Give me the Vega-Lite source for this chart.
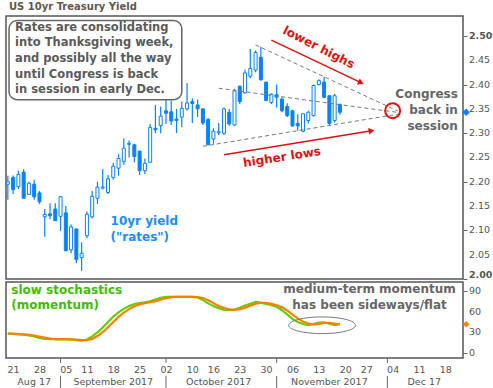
{
"$schema": "https://vega.github.io/schema/vega-lite/v6.json",
"padding": {"left": 2, "top": 2, "right": 0, "bottom": 0},
"background": "white",
"spacing": 0,
"title": {"text": "US 10yr Treasury Yield", "anchor": "start", "frame": "group", "offset": 3, "dx": 3, "fontSize": 10, "fontWeight": "bold", "font": "DejaVu Sans", "color": "#62574a"},
"config": {
  "view": {"stroke": "#555", "strokeWidth": 1.5},
  "axis": {"labelFont": "DejaVu Sans", "labelFontSize": 9.5, "labelColor": "#555", "tickColor": "#666", "grid": false, "domain": false, "labelOverlap": false},
  "text": {"font": "DejaVu Sans"},
  "point": {"opacity": 1}
},
"datasets": {
  "px": [
    {"d":"2017-08-18","o":2.195,"h":2.2126,"l":2.163,"c":2.200,"k":28,"s":28.5},
    {"d":"2017-08-21","o":2.209,"h":2.213,"l":2.175,"c":2.184,"k":27.5,"s":28},
    {"d":"2017-08-22","o":2.190,"h":2.223,"l":2.185,"c":2.215,"k":27,"s":27.5},
    {"d":"2017-08-23","o":2.220,"h":2.226,"l":2.166,"c":2.166,"k":26.5,"s":27},
    {"d":"2017-08-24","o":2.174,"h":2.200,"l":2.173,"c":2.197,"k":25.5,"s":26.3},
    {"d":"2017-08-25","o":2.195,"h":2.204,"l":2.163,"c":2.169,"k":24,"s":25.3},
    {"d":"2017-08-28","o":2.177,"h":2.181,"l":2.154,"c":2.159,"k":22,"s":23.8},
    {"d":"2017-08-29","o":2.128,"h":2.144,"l":2.087,"c":2.133,"k":20.5,"s":22.2},
    {"d":"2017-08-30","o":2.134,"h":2.156,"l":2.123,"c":2.130,"k":20,"s":20.8},
    {"d":"2017-08-31","o":2.144,"h":2.156,"l":2.120,"c":2.120,"k":20,"s":20.2},
    {"d":"2017-09-01","o":2.129,"h":2.171,"l":2.099,"c":2.169,"k":19.8,"s":20},
    {"d":"2017-09-05","o":2.136,"h":2.150,"l":2.058,"c":2.058,"k":20,"s":20},
    {"d":"2017-09-06","o":2.060,"h":2.112,"l":2.053,"c":2.107,"k":19.5,"s":19.8},
    {"d":"2017-09-07","o":2.103,"h":2.103,"l":2.033,"c":2.040,"k":18.5,"s":19.3},
    {"d":"2017-09-08","o":2.044,"h":2.0755,"l":2.017,"c":2.053,"k":18,"s":18.7},
    {"d":"2017-09-11","o":2.089,"h":2.139,"l":2.084,"c":2.133,"k":19.5,"s":18.7},
    {"d":"2017-09-12","o":2.128,"h":2.181,"l":2.125,"c":2.170,"k":24,"s":20.5},
    {"d":"2017-09-13","o":2.166,"h":2.200,"l":2.154,"c":2.189,"k":30,"s":24.5},
    {"d":"2017-09-14","o":2.187,"h":2.226,"l":2.184,"c":2.189,"k":37,"s":30.3},
    {"d":"2017-09-15","o":2.178,"h":2.214,"l":2.175,"c":2.206,"k":45,"s":37.3},
    {"d":"2017-09-18","o":2.209,"h":2.239,"l":2.204,"c":2.232,"k":53,"s":45},
    {"d":"2017-09-19","o":2.228,"h":2.257,"l":2.2125,"c":2.248,"k":59,"s":52.3},
    {"d":"2017-09-20","o":2.242,"h":2.289,"l":2.235,"c":2.269,"k":64,"s":58.7},
    {"d":"2017-09-21","o":2.277,"h":2.285,"l":2.250,"c":2.279,"k":68,"s":63.7},
    {"d":"2017-09-22","o":2.276,"h":2.278,"l":2.240,"c":2.252,"k":71,"s":67.7},
    {"d":"2017-09-25","o":2.263,"h":2.264,"l":2.214,"c":2.223,"k":72.5,"s":70.5},
    {"d":"2017-09-26","o":2.223,"h":2.248,"l":2.216,"c":2.238,"k":73.5,"s":72.3},
    {"d":"2017-09-27","o":2.240,"h":2.319,"l":2.239,"c":2.312,"k":75,"s":73.7},
    {"d":"2017-09-28","o":2.310,"h":2.358,"l":2.300,"c":2.307,"k":77.5,"s":75.3},
    {"d":"2017-09-29","o":2.3155,"h":2.355,"l":2.300,"c":2.335,"k":80,"s":77.5},
    {"d":"2017-10-02","o":2.346,"h":2.370,"l":2.319,"c":2.341,"k":81.5,"s":79.7},
    {"d":"2017-10-03","o":2.344,"h":2.367,"l":2.317,"c":2.325,"k":81.5,"s":81},
    {"d":"2017-10-04","o":2.329,"h":2.350,"l":2.300,"c":2.326,"k":81.5,"s":81.5},
    {"d":"2017-10-05","o":2.333,"h":2.365,"l":2.312,"c":2.351,"k":81.5,"s":81.5},
    {"d":"2017-10-06","o":2.350,"h":2.403,"l":2.346,"c":2.362,"k":81.5,"s":81.5},
    {"d":"2017-10-10","o":2.365,"h":2.372,"l":2.321,"c":2.361,"k":81.5,"s":81.5},
    {"d":"2017-10-11","o":2.358,"h":2.369,"l":2.333,"c":2.350,"k":80.5,"s":81.2},
    {"d":"2017-10-12","o":2.350,"h":2.350,"l":2.317,"c":2.321,"k":77,"s":79.7},
    {"d":"2017-10-13","o":2.328,"h":2.331,"l":2.276,"c":2.276,"k":72,"s":76.5},
    {"d":"2017-10-16","o":2.288,"h":2.310,"l":2.278,"c":2.304,"k":68,"s":72.3},
    {"d":"2017-10-17","o":2.301,"h":2.321,"l":2.296,"c":2.303,"k":65,"s":68.3},
    {"d":"2017-10-18","o":2.300,"h":2.353,"l":2.296,"c":2.350,"k":62.5,"s":65.2},
    {"d":"2017-10-19","o":2.343,"h":2.350,"l":2.315,"c":2.319,"k":62,"s":63.2},
    {"d":"2017-10-20","o":2.317,"h":2.391,"l":2.315,"c":2.387,"k":63,"s":62.5},
    {"d":"2017-10-23","o":2.3965,"h":2.398,"l":2.360,"c":2.365,"k":65.5,"s":63.5},
    {"d":"2017-10-24","o":2.383,"h":2.431,"l":2.381,"c":2.424,"k":69,"s":65.8},
    {"d":"2017-10-25","o":2.417,"h":2.473,"l":2.413,"c":2.433,"k":71.5,"s":68.7},
    {"d":"2017-10-26","o":2.430,"h":2.470,"l":2.425,"c":2.466,"k":74,"s":71.5},
    {"d":"2017-10-27","o":2.456,"h":2.478,"l":2.408,"c":2.410,"k":73,"s":72.8},
    {"d":"2017-10-30","o":2.405,"h":2.406,"l":2.367,"c":2.367,"k":71,"s":72.7},
    {"d":"2017-10-31","o":2.363,"h":2.382,"l":2.360,"c":2.380,"k":69.5,"s":71.2},
    {"d":"2017-11-01","o":2.379,"h":2.400,"l":2.353,"c":2.374,"k":67,"s":69.2},
    {"d":"2017-11-02","o":2.370,"h":2.374,"l":2.343,"c":2.346,"k":62,"s":66.2},
    {"d":"2017-11-03","o":2.355,"h":2.3615,"l":2.333,"c":2.336,"k":56,"s":61.7},
    {"d":"2017-11-06","o":2.346,"h":2.348,"l":2.313,"c":2.315,"k":49.5,"s":55.8},
    {"d":"2017-11-07","o":2.320,"h":2.339,"l":2.305,"c":2.315,"k":45,"s":50.2},
    {"d":"2017-11-08","o":2.304,"h":2.341,"l":2.302,"c":2.340,"k":42,"s":45.5},
    {"d":"2017-11-09","o":2.326,"h":2.346,"l":2.320,"c":2.343,"k":40.5,"s":42.5},
    {"d":"2017-11-10","o":2.336,"h":2.400,"l":2.334,"c":2.398,"k":42,"s":41.5},
    {"d":"2017-11-13","o":2.400,"h":2.411,"l":2.398,"c":2.408,"k":44,"s":42.2},
    {"d":"2017-11-14","o":2.405,"h":2.416,"l":2.372,"c":2.374,"k":44.5,"s":43.5},
    {"d":"2017-11-15","o":2.377,"h":2.377,"l":2.317,"c":2.320,"k":42.5,"s":43.7},
    {"d":"2017-11-16","o":2.326,"h":2.381,"l":2.322,"c":2.377,"k":40.5,"s":42.5},
    {"d":"2017-11-17","o":2.359,"h":2.361,"l":2.338,"c":2.343,"k":42,"s":41.7}
  ],
  "ytick": [{"v":2.0},{"v":2.05},{"v":2.1},{"v":2.15},{"v":2.2},{"v":2.25},{"v":2.3},{"v":2.35},{"v":2.4},{"v":2.45},{"v":2.5}],
  "stick": [{"v":0},{"v":30},{"v":60},{"v":90}],
  "box": [{"d":"2017-08-18","d2":"2017-10-05","v":2.5315,"v2":2.3689}],
  "trend": [
    {"d":"2017-10-26","v":2.4815,"d2":"2017-12-05","v2":2.3455},
    {"d":"2017-10-17","v":2.3924,"d2":"2017-12-05","v2":2.3426},
    {"d":"2017-10-12","v":2.273,"d2":"2017-12-05","v2":2.339}
  ],
  "arrows": [
    {"name":"lower highs","d":"2017-10-31","v":2.4914,"d2":"2017-11-24","v2":2.4039},
    {"name":"higher lows","d":"2017-10-18","v":2.2558,"d2":"2017-11-28","v2":2.3049}
  ],
  "circle": [{"d":"2017-12-04","v":2.3463}],
  "notes": [
    {"g":"box","d":"2017-08-21","v":2.5158,"t":"Rates are consolidating"},
    {"g":"box","d":"2017-08-21","v":2.4846,"t":"into Thanksgiving week,"},
    {"g":"box","d":"2017-08-21","v":2.4521,"t":"and possibly all the way"},
    {"g":"box","d":"2017-08-21","v":2.4206,"t":"until Congress is back"},
    {"g":"box","d":"2017-08-21","v":2.3895,"t":"in session in early Dec."},
    {"g":"congress","d":"2017-12-20","v":2.3807,"t":"Congress"},
    {"g":"congress","d":"2017-12-20","v":2.3477,"t":"back in"},
    {"g":"congress","d":"2017-12-20","v":2.3142,"t":"session"},
    {"g":"red1","d":"2017-11-13","v":2.4767,"t":"lower highs"},
    {"g":"red2","d":"2017-11-02","v":2.251,"t":"higher lows"},
    {"g":"blue","d":"2017-09-15","v":2.12,"t":"10yr yield"},
    {"g":"blue","d":"2017-09-15","v":2.0858,"t":"(\"rates\")"}
  ],
  "marker": [{"d":"2017-12-21","v":2.343,"s":41.7}],
  "ell": [{"d":"2017-11-14","v":40.2}],
  "lnotes": [
    {"g":"green","d":"2017-08-18","v":91,"t":"slow stochastics"},
    {"g":"green","d":"2017-08-18","v":69.2,"t":"(momentum)"},
    {"g":"gray","d":"2017-11-28","v":93.3,"t":"medium-term momentum"},
    {"g":"gray","d":"2017-11-28","v":69.2,"t":"has been sideways/flat"}
  ],
  "months": [
    {"d":"2017-08-25","t":"Aug 17"},
    {"d":"2017-09-18","t":"September 2017"},
    {"d":"2017-10-17","t":"October 2017"},
    {"d":"2017-11-15","t":"November 2017"},
    {"d":"2017-12-12","t":"Dec 17"}
  ],
  "seps": [{"d":"2017-09-01"},{"d":"2017-10-02"},{"d":"2017-11-01"},{"d":"2017-12-01"}]
},
"vconcat": [
  {
    "width": 457, "height": 263,
    "layer": [
      {
        "data": {"name": "px"},
        "mark": {"type": "rule", "color": "#0a80ff", "strokeWidth": 1.2},
        "encoding": {
          "x": {"field": "d", "type": "ordinal", "axis": null,
            "scale": {"type": "point", "padding": 0.35, "domain": ["2017-08-18","2017-08-21","2017-08-22","2017-08-23","2017-08-24","2017-08-25","2017-08-28","2017-08-29","2017-08-30","2017-08-31","2017-09-01","2017-09-05","2017-09-06","2017-09-07","2017-09-08","2017-09-11","2017-09-12","2017-09-13","2017-09-14","2017-09-15","2017-09-18","2017-09-19","2017-09-20","2017-09-21","2017-09-22","2017-09-25","2017-09-26","2017-09-27","2017-09-28","2017-09-29","2017-10-02","2017-10-03","2017-10-04","2017-10-05","2017-10-06","2017-10-10","2017-10-11","2017-10-12","2017-10-13","2017-10-16","2017-10-17","2017-10-18","2017-10-19","2017-10-20","2017-10-23","2017-10-24","2017-10-25","2017-10-26","2017-10-27","2017-10-30","2017-10-31","2017-11-01","2017-11-02","2017-11-03","2017-11-06","2017-11-07","2017-11-08","2017-11-09","2017-11-10","2017-11-13","2017-11-14","2017-11-15","2017-11-16","2017-11-17","2017-11-20","2017-11-21","2017-11-22","2017-11-24","2017-11-27","2017-11-28","2017-11-29","2017-11-30","2017-12-01","2017-12-04","2017-12-05","2017-12-06","2017-12-07","2017-12-08","2017-12-11","2017-12-12","2017-12-13","2017-12-14","2017-12-15","2017-12-18","2017-12-19","2017-12-20","2017-12-21"]}},
          "y": {"field": "l", "type": "quantitative", "title": null,
            "scale": {"domain": [2.0, 2.541], "nice": false, "zero": false},
            "axis": {"orient": "right", "values": [2.0,2.05,2.1,2.15,2.2,2.25,2.3,2.35,2.4,2.45,2.5], "labels": false, "tickSize": 4, "title": null}},
          "y2": {"field": "h"}
        }
      },
      {
        "data": {"name": "px"},
        "mark": {"type": "bar", "size": 3, "stroke": "#0a80ff", "strokeWidth": 1},
        "encoding": {
          "x": {"field": "d", "type": "ordinal"},
          "y": {"field": "o", "type": "quantitative", "title": null},
          "y2": {"field": "c"},
          "fill": {"condition": {"test": "datum.c > datum.o", "value": "white"}, "value": "#0a80ff"}
        }
      },
      {
        "data": {"name": "box"},
        "mark": {"type": "rect", "fill": "white", "stroke": "#666", "strokeWidth": 1.5, "cornerRadius": 8, "xOffset": 1.2},
        "encoding": {
          "x": {"field": "d", "type": "ordinal"}, "x2": {"field": "d2"},
          "y": {"field": "v", "type": "quantitative", "title": null}, "y2": {"field": "v2"}
        }
      },
      {
        "data": {"name": "trend"},
        "mark": {"type": "rule", "color": "#777", "strokeWidth": 1, "strokeDash": [4, 3]},
        "encoding": {
          "x": {"field": "d", "type": "ordinal"}, "x2": {"field": "d2"},
          "y": {"field": "v", "type": "quantitative", "title": null}, "y2": {"field": "v2"}
        }
      },
      {
        "data": {"name": "arrows"},
        "mark": {"type": "rule", "color": "#dd1111", "strokeWidth": 1.5},
        "encoding": {
          "x": {"field": "d", "type": "ordinal"}, "x2": {"field": "d2"},
          "y": {"field": "v", "type": "quantitative", "title": null}, "y2": {"field": "v2"}
        }
      },
      {
        "data": {"name": "arrows"},
        "transform": [{"filter": "datum.name == 'lower highs'"}],
        "mark": {"type": "point", "shape": "triangle-right", "filled": true, "color": "#dd1111", "size": 45, "angle": 25.3},
        "encoding": {
          "x": {"field": "d2", "type": "ordinal"},
          "y": {"field": "v2", "type": "quantitative", "title": null}
        }
      },
      {
        "data": {"name": "arrows"},
        "transform": [{"filter": "datum.name == 'higher lows'"}],
        "mark": {"type": "point", "shape": "triangle-right", "filled": true, "color": "#dd1111", "size": 45, "angle": -9.2},
        "encoding": {
          "x": {"field": "d2", "type": "ordinal"},
          "y": {"field": "v2", "type": "quantitative", "title": null}
        }
      },
      {
        "data": {"name": "circle"},
        "mark": {"type": "point", "shape": "circle", "filled": false, "color": "#dd1111", "strokeWidth": 2, "size": 225},
        "encoding": {
          "x": {"field": "d", "type": "ordinal"},
          "y": {"field": "v", "type": "quantitative", "title": null}
        }
      },
      {
        "data": {"name": "notes"},
        "transform": [{"filter": "datum.g == 'box'"}],
        "mark": {"type": "text", "align": "left", "baseline": "middle", "dx": 2, "font": "DejaVu Sans", "fontWeight": "bold", "fontSize": 11.5, "color": "#5a5a5a"},
        "encoding": {
          "x": {"field": "d", "type": "ordinal"},
          "y": {"field": "v", "type": "quantitative", "title": null},
          "text": {"field": "t"}
        }
      },
      {
        "data": {"name": "notes"},
        "transform": [{"filter": "datum.g == 'congress'"}],
        "mark": {"type": "text", "align": "right", "baseline": "middle", "dx": 2, "font": "DejaVu Sans", "fontWeight": "bold", "fontSize": 12, "color": "#666"},
        "encoding": {
          "x": {"field": "d", "type": "ordinal"},
          "y": {"field": "v", "type": "quantitative", "title": null},
          "text": {"field": "t"}
        }
      },
      {
        "data": {"name": "notes"},
        "transform": [{"filter": "datum.g == 'red1'"}],
        "mark": {"type": "text", "align": "center", "baseline": "middle", "angle": 27, "font": "DejaVu Sans", "fontWeight": "bold", "fontSize": 12, "color": "#dd1111"},
        "encoding": {
          "x": {"field": "d", "type": "ordinal"},
          "y": {"field": "v", "type": "quantitative", "title": null},
          "text": {"field": "t"}
        }
      },
      {
        "data": {"name": "notes"},
        "transform": [{"filter": "datum.g == 'red2'"}],
        "mark": {"type": "text", "align": "center", "baseline": "middle", "angle": -9, "font": "DejaVu Sans", "fontWeight": "bold", "fontSize": 12, "color": "#dd1111"},
        "encoding": {
          "x": {"field": "d", "type": "ordinal"},
          "y": {"field": "v", "type": "quantitative", "title": null},
          "text": {"field": "t"}
        }
      },
      {
        "data": {"name": "notes"},
        "transform": [{"filter": "datum.g == 'blue'"}],
        "mark": {"type": "text", "align": "left", "baseline": "middle", "dx": 2.6, "font": "DejaVu Sans", "fontWeight": "bold", "fontSize": 12, "color": "#1a8cff"},
        "encoding": {
          "x": {"field": "d", "type": "ordinal"},
          "y": {"field": "v", "type": "quantitative", "title": null},
          "text": {"field": "t"}
        }
      },
      {
        "data": {"name": "marker"},
        "mark": {"type": "point", "shape": "diamond", "filled": true, "color": "#0a80ff", "size": 55, "xOffset": 5},
        "encoding": {
          "x": {"field": "d", "type": "ordinal"},
          "y": {"field": "v", "type": "quantitative", "title": null}
        }
      },
      {
        "data": {"name": "ytick"},
        "transform": [{"filter": "datum.v > 2.01 && datum.v < 2.49"}],
        "mark": {"type": "text", "align": "left", "baseline": "middle", "dx": 7.8, "font": "DejaVu Sans", "fontSize": 9.5, "color": "#555"},
        "encoding": {
          "x": {"datum": "2017-12-21"},
          "y": {"field": "v", "type": "quantitative", "title": null},
          "text": {"field": "v", "type": "quantitative", "format": ".2f"}
        }
      },
      {
        "data": {"name": "ytick"},
        "transform": [{"filter": "datum.v > 2.49"}],
        "mark": {"type": "text", "align": "left", "baseline": "middle", "dx": 7.8, "font": "DejaVu Sans", "fontWeight": "bold", "fontSize": 9.5, "color": "#555"},
        "encoding": {
          "x": {"datum": "2017-12-21"},
          "y": {"field": "v", "type": "quantitative", "title": null},
          "text": {"field": "v", "type": "quantitative", "format": ".2f"}
        }
      },
      {
        "data": {"name": "ytick"},
        "transform": [{"filter": "datum.v < 2.01"}],
        "mark": {"type": "text", "align": "left", "baseline": "bottom", "dx": 7.8, "dy": 1, "font": "DejaVu Sans", "fontWeight": "bold", "fontSize": 9.5, "color": "#555"},
        "encoding": {
          "x": {"datum": "2017-12-21"},
          "y": {"field": "v", "type": "quantitative", "title": null},
          "text": {"field": "v", "type": "quantitative", "format": ".2f"}
        }
      }
    ]
  },
  {
    "width": 457, "height": 76,
    "layer": [
      {
        "mark": {"type": "rule", "color": "#66cc22", "strokeWidth": 1.5},
        "encoding": {"y": {"datum": 80}}
      },
      {
        "mark": {"type": "rule", "color": "#66cc22", "strokeWidth": 1.5},
        "encoding": {"y": {"datum": 20}}
      },
      {
        "mark": {"type": "rule", "color": "#888", "strokeWidth": 1, "strokeDash": [5, 3]},
        "encoding": {"y": {"datum": 50}}
      },
      {
        "data": {"name": "px"},
        "mark": {"type": "line", "color": "#66cc00", "strokeWidth": 2.2},
        "encoding": {
          "x": {"field": "d", "type": "ordinal", "title": null,
            "scale": {"type": "point", "padding": 0.35, "domain": ["2017-08-18","2017-08-21","2017-08-22","2017-08-23","2017-08-24","2017-08-25","2017-08-28","2017-08-29","2017-08-30","2017-08-31","2017-09-01","2017-09-05","2017-09-06","2017-09-07","2017-09-08","2017-09-11","2017-09-12","2017-09-13","2017-09-14","2017-09-15","2017-09-18","2017-09-19","2017-09-20","2017-09-21","2017-09-22","2017-09-25","2017-09-26","2017-09-27","2017-09-28","2017-09-29","2017-10-02","2017-10-03","2017-10-04","2017-10-05","2017-10-06","2017-10-10","2017-10-11","2017-10-12","2017-10-13","2017-10-16","2017-10-17","2017-10-18","2017-10-19","2017-10-20","2017-10-23","2017-10-24","2017-10-25","2017-10-26","2017-10-27","2017-10-30","2017-10-31","2017-11-01","2017-11-02","2017-11-03","2017-11-06","2017-11-07","2017-11-08","2017-11-09","2017-11-10","2017-11-13","2017-11-14","2017-11-15","2017-11-16","2017-11-17","2017-11-20","2017-11-21","2017-11-22","2017-11-24","2017-11-27","2017-11-28","2017-11-29","2017-11-30","2017-12-01","2017-12-04","2017-12-05","2017-12-06","2017-12-07","2017-12-08","2017-12-11","2017-12-12","2017-12-13","2017-12-14","2017-12-15","2017-12-18","2017-12-19","2017-12-20","2017-12-21"]},
            "axis": {"values": ["2017-08-21","2017-08-28","2017-09-05","2017-09-11","2017-09-18","2017-09-25","2017-10-02","2017-10-10","2017-10-16","2017-10-23","2017-10-30","2017-11-06","2017-11-13","2017-11-20","2017-11-27","2017-12-04","2017-12-11","2017-12-18"],
              "labelExpr": "slice(datum.value, 8)", "labelAngle": 0, "ticks": false, "labelPadding": 6, "title": null, "labelOverlap": false}},
          "y": {"field": "k", "type": "quantitative", "title": null,
            "scale": {"domain": [-7.3, 103], "nice": false, "zero": false},
            "axis": {"orient": "right", "values": [0, 30, 60, 90], "labels": false, "tickSize": 4, "title": null}}
        }
      },
      {
        "data": {"name": "px"},
        "mark": {"type": "line", "color": "#ff8000", "strokeWidth": 2.2},
        "encoding": {
          "x": {"field": "d", "type": "ordinal"},
          "y": {"field": "s", "type": "quantitative", "title": null}
        }
      },
      {
        "data": {"name": "ell"},
        "mark": {"type": "point", "shape": "M -1 0 A 1 0.25 0 1 1 1 0 A 1 0.25 0 1 1 -1 0 Z", "filled": false, "color": "#777", "strokeWidth": 1, "size": 4449, "xOffset": -2},
        "encoding": {
          "x": {"field": "d", "type": "ordinal"},
          "y": {"field": "v", "type": "quantitative", "title": null}
        }
      },
      {
        "data": {"name": "lnotes"},
        "transform": [{"filter": "datum.g == 'green'"}],
        "mark": {"type": "text", "align": "left", "baseline": "middle", "dx": 3.5, "font": "DejaVu Sans", "fontWeight": "bold", "fontSize": 12, "color": "#44bb00"},
        "encoding": {
          "x": {"field": "d", "type": "ordinal"},
          "y": {"field": "v", "type": "quantitative", "title": null},
          "text": {"field": "t"}
        }
      },
      {
        "data": {"name": "lnotes"},
        "transform": [{"filter": "datum.g == 'gray'"}],
        "mark": {"type": "text", "align": "center", "baseline": "middle", "dx": -2, "font": "DejaVu Sans", "fontWeight": "bold", "fontSize": 12, "color": "#666"},
        "encoding": {
          "x": {"field": "d", "type": "ordinal"},
          "y": {"field": "v", "type": "quantitative", "title": null},
          "text": {"field": "t"}
        }
      },
      {
        "data": {"name": "marker"},
        "mark": {"type": "point", "shape": "diamond", "filled": true, "color": "#ff8000", "size": 45, "xOffset": 5},
        "encoding": {
          "x": {"field": "d", "type": "ordinal"},
          "y": {"field": "s", "type": "quantitative", "title": null}
        }
      },
      {
        "data": {"name": "stick"},
        "mark": {"type": "text", "align": "left", "baseline": "middle", "dx": 7.8, "font": "DejaVu Sans", "fontSize": 9.5, "color": "#555"},
        "encoding": {
          "x": {"datum": "2017-12-21"},
          "y": {"field": "v", "type": "quantitative", "title": null},
          "text": {"field": "v", "type": "quantitative"}
        }
      },
      {
        "data": {"name": "months"},
        "mark": {"type": "text", "align": "center", "baseline": "middle", "font": "DejaVu Sans", "fontSize": 9.5, "color": "#555"},
        "encoding": {
          "x": {"field": "d", "type": "ordinal"},
          "y": {"datum": -42},
          "text": {"field": "t"}
        }
      },
      {
        "data": {"name": "seps"},
        "mark": {"type": "rule", "color": "#666", "strokeWidth": 1},
        "encoding": {
          "x": {"field": "d", "type": "ordinal"},
          "y": {"datum": -33.4},
          "y2": {"datum": -50.8}
        }
      },
      {
        "data": {"name": "seps"},
        "mark": {"type": "rule", "color": "#666", "strokeWidth": 1},
        "encoding": {
          "x": {"field": "d", "type": "ordinal"},
          "y": {"datum": -7.3},
          "y2": {"datum": -14.5}
        }
      }
    ]
  }
]
}
